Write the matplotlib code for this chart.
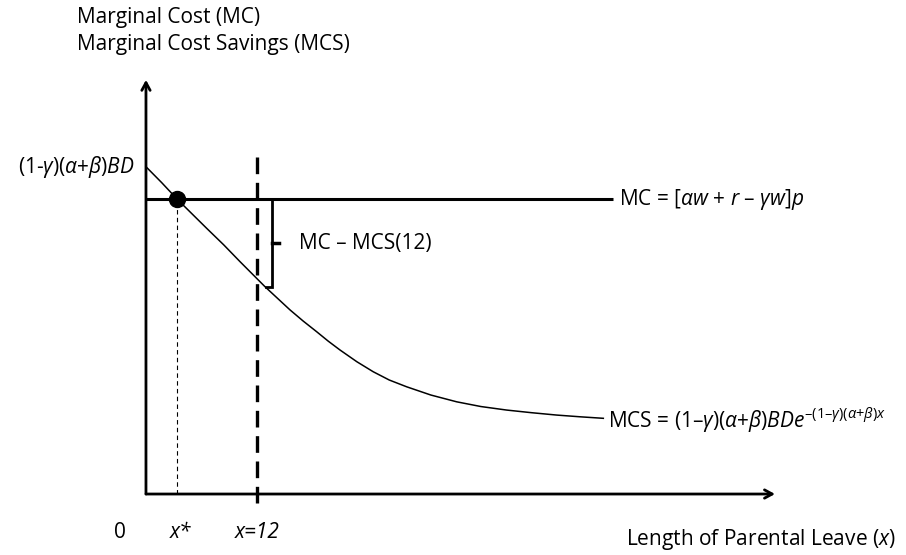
import matplotlib
matplotlib.use("Agg")
import matplotlib.pyplot as plt

# ------------------------------------------------------------
# Values
# x: length of parental leave (months), y: cost (MC = 1)
# ------------------------------------------------------------
mcs_x = [0.0, 1.7, 3.4, 6.56, 8.4, 10.16, 12.86, 15.57, 17.0, 18.45, 19.7,
         20.97, 22.8, 24.57, 26.3, 28.18, 30.8, 33.59, 36.2, 38.99, 41.7,
         44.40, 47.0, 49.44]
mcs_y = [1.111, 1.057, 1.0, 0.902, 0.846, 0.789, 0.704, 0.625, 0.587, 0.551,
         0.519, 0.489, 0.449, 0.415, 0.387, 0.364, 0.336, 0.313, 0.297, 0.285,
         0.276, 0.268, 0.262, 0.257]
mc_value = 1.0
mc_x_end = 50.5
x_star = 3.4
x_policy = 12
mcs_at_policy = 0.704
x_axis_end = 68.0
y_axis_end = 1.406

plt.rcParams["font.family"] = ["Open Sans", "DejaVu Sans"]
plt.rcParams["mathtext.fontset"] = "custom"
plt.rcParams["mathtext.rm"] = "Open Sans"
plt.rcParams["mathtext.it"] = "Open Sans:italic"
plt.rcParams["mathtext.bf"] = "Open Sans:bold"

FS = 15.0

fig = plt.figure(figsize=(9.06, 5.55), dpi=100)
ax = fig.add_axes([0, 0, 1, 1])
ax.set_xlim(-15.78, 82.16)
ax.set_ylim(-0.207, 1.677)
ax.axis("off")

# axes with arrows
arrow = dict(arrowstyle="->,head_length=0.55,head_width=0.3", lw=2.0,
             color="black", shrinkA=0, shrinkB=0)
ax.annotate("", xy=(x_axis_end, 0), xytext=(0, 0), arrowprops=arrow)
ax.annotate("", xy=(0, y_axis_end), xytext=(0, 0), arrowprops=arrow)

# MC line
ax.plot([0, mc_x_end], [mc_value, mc_value], color="black", lw=2.2,
        solid_capstyle="butt")

# MCS curve
ax.plot(mcs_x, mcs_y, color="black", lw=1.1, solid_joinstyle="round")

# policy line at x = 12
ax.plot([x_policy, x_policy], [-0.031, 1.161], color="black", lw=2.4,
        dashes=(5, 2.6))

# x* marker
ax.plot([x_star, x_star], [0, mc_value], color="black", lw=0.8,
        dashes=(4, 3))
ax.plot([x_star], [mc_value], "o", color="black", markersize=11.5, zorder=5)

# bracket MC - MCS(12)
bx = x_policy + 1.65
ax.plot([bx - 0.65, bx, bx, bx - 0.65],
        [mc_value, mc_value, mcs_at_policy, mcs_at_policy],
        color="black", lw=2.0, solid_joinstyle="miter")
mid = (mc_value + mcs_at_policy) / 2
ax.plot([bx, bx + 0.75], [mid, mid], color="black", lw=2.5)
ax.text(bx + 2.85, mid, "MC – MCS(12)", fontsize=FS, va="center", ha="left")

# labels
ax.text(-7.46, 1.616, "Marginal Cost (MC)", fontsize=FS, va="center", ha="left")
ax.text(-7.46, 1.525, "Marginal Cost Savings (MCS)", fontsize=FS,
        va="center", ha="left")
ax.text(-1.2, mcs_y[0], r"(1-$\gamma$)($\alpha$+$\beta$)$BD$", fontsize=FS,
        va="center", ha="right")
ax.text(mc_x_end + 0.6, mc_value, r"MC = [$\alpha w$ + $r$ – $\gamma w$]$p$",
        fontsize=FS, va="center", ha="left")
ax.text(mcs_x[-1] + 0.55, mcs_y[-1] - 0.008,
        r"MCS = (1–$\gamma$)($\alpha$+$\beta$)$BDe^{\mathrm{–(1–}\gamma\mathrm{)(}\alpha\mathrm{+}\beta\mathrm{)}x}$",
        fontsize=FS, va="center", ha="left")

ax.text(-2.8, -0.129, "0", fontsize=FS, va="center", ha="center")
ax.text(x_star + 0.3, -0.129, "x*", fontsize=FS, va="center", ha="center",
        style="italic")
ax.text(x_policy, -0.129, "x=12", fontsize=FS, va="center", ha="center",
        style="italic")
ax.text(81.0, -0.156, r"Length of Parental Leave ($x$)", fontsize=FS,
        va="center", ha="right")

fig.savefig("out.png", dpi=100)
